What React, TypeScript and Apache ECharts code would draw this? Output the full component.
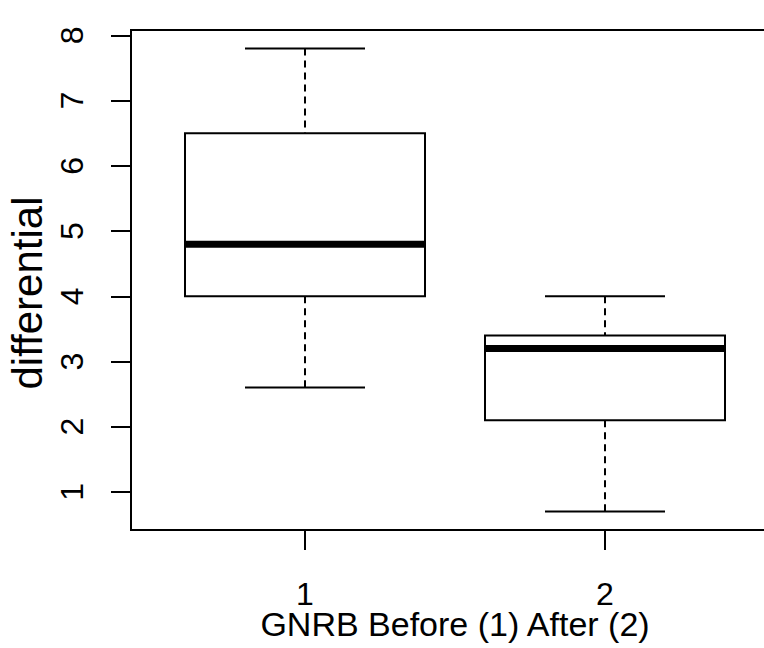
import React, { useEffect, useRef } from "react";
import * as echarts from "echarts";

const categories = [1, 2];
const lowerWhisker = [2.6, 0.7];
const q1 = [4.0, 2.1];
const median = [4.8, 3.2];
const q3 = [6.5, 3.4];
const upperWhisker = [7.8, 4.0];
const yTicks = [1, 2, 3, 4, 5, 6, 7, 8];
const xTicks = [1, 2];

const FONT = "'Liberation Sans', Arial, Helvetica, sans-serif";

export default function App() {
  const ref = useRef<HTMLDivElement>(null);
  useEffect(() => {
    if (!ref.current) return;
    const chart = echarts.init(ref.current, null, { renderer: "svg" });
    const data = categories.map((c, i) => [c, lowerWhisker[i], q1[i], median[i], q3[i], upperWhisker[i]]);
    chart.setOption({
      animation: false,
      backgroundColor: "#ffffff",
      grid: {
        left: 131,
        top: 30,
        right: -15,
        bottom: 118,
        outerBoundsMode: "none",
        containLabel: false,
        show: true,
        borderColor: "#000",
        borderWidth: 2,
        backgroundColor: "transparent",
      },
      xAxis: {
        type: "value",
        min: 0.42,
        max: 2.58,
        name: "GNRB Before (1) After (2)",
        nameLocation: "middle",
        nameGap: 94,
        nameMoveOverlap: false,
        nameTextStyle: { fontSize: 34, color: "#000", fontFamily: FONT, verticalAlign: "middle", lineHeight: 26 },
        axisLine: { show: false },
        splitLine: { show: false },
        axisTick: { show: true, length: 20, lineStyle: { color: "#000", width: 2 }, customValues: xTicks },
        axisLabel: {
          fontSize: 32,
          lineHeight: 24,
          color: "#000",
          fontFamily: FONT,
          margin: 64,
          verticalAlign: "middle",
          customValues: xTicks,
          formatter: (v: number) => String(v),
        },
      },
      yAxis: {
        type: "value",
        min: 0.416,
        max: 8.084,
        name: "differential",
        nameLocation: "middle",
        nameGap: 104,
        nameMoveOverlap: false,
        nameTextStyle: { fontSize: 42, color: "#000", fontFamily: FONT, verticalAlign: "middle", padding: [0, 26, 0, 0] },
        axisLine: { show: false },
        splitLine: { show: false },
        axisTick: { show: true, length: 20, lineStyle: { color: "#000", width: 2 }, customValues: yTicks },
        axisLabel: {
          fontSize: 32,
          color: "#000",
          fontFamily: FONT,
          rotate: 90,
          align: "center",
          verticalAlign: "middle",
          margin: 59,
          customValues: yTicks,
          formatter: (v: number) => String(v),
        },
      },
      series: [
        {
          type: "custom",
          clip: false,
          data,
          encode: { x: 0, y: [1, 2, 3, 4, 5] },
          renderItem: (params: any, api: any) => {
            const x = api.value(0);
            const lo = api.coord([x, api.value(1)]);
            const b1 = api.coord([x, api.value(2)]);
            const med = api.coord([x, api.value(3)]);
            const b3 = api.coord([x, api.value(4)]);
            const hi = api.coord([x, api.value(5)]);
            const boxW = api.size([0.8, 0])[0];
            const capW = api.size([0.4, 0])[0];
            const cx = lo[0];
            const stroke = "#000";
            return {
              type: "group",
              children: [
                { type: "line", shape: { x1: cx, y1: hi[1], x2: cx, y2: b3[1] }, style: { stroke, lineWidth: 2, lineDash: [7, 5] } },
                { type: "line", shape: { x1: cx, y1: b1[1], x2: cx, y2: lo[1] }, style: { stroke, lineWidth: 2, lineDash: [7, 5] } },
                { type: "line", shape: { x1: cx - capW / 2, y1: hi[1], x2: cx + capW / 2, y2: hi[1] }, style: { stroke, lineWidth: 2 } },
                { type: "line", shape: { x1: cx - capW / 2, y1: lo[1], x2: cx + capW / 2, y2: lo[1] }, style: { stroke, lineWidth: 2 } },
                {
                  type: "rect",
                  shape: { x: cx - boxW / 2, y: b3[1], width: boxW, height: b1[1] - b3[1] },
                  style: { stroke, fill: "#fff", lineWidth: 2 },
                },
                { type: "line", shape: { x1: cx - boxW / 2, y1: med[1], x2: cx + boxW / 2, y2: med[1] }, style: { stroke, lineWidth: 7 } },
              ],
            };
          },
        },
      ],
    });
    return () => chart.dispose();
  }, []);
  return <div ref={ref} style={{ position: "absolute", left: 0, top: 0, width: 764, height: 648 }} />;
}
